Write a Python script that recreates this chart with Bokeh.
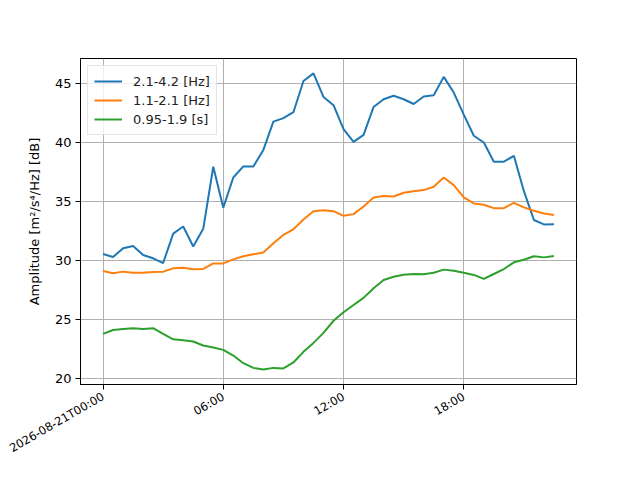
import math
import pandas as pd
from bokeh.plotting import figure
from bokeh.models import (Range1d, FixedTicker, CustomJSTickFormatter, Legend,
                          LegendItem, ColumnDataSource)
from bokeh.embed import file_html
from bokeh.resources import INLINE

start = "2026-08-21T00:00"
times = pd.date_range(start, periods=46, freq="30min")

band_hz_high = [30.56, 30.31, 31.05, 31.24, 30.48, 30.2, 29.8, 32.3, 32.9, 31.2,
                32.7, 37.97, 34.5, 37.06, 38.0, 38.0, 39.4, 41.8, 42.1, 42.6,
                45.25, 45.9, 43.9, 43.2, 41.16, 40.08, 40.68, 43.05, 43.7, 44.0,
                43.7, 43.3, 43.93, 44.04, 45.6, 44.27, 42.4, 40.6, 40.03, 38.4,
                38.4, 38.9, 35.9, 33.45, 33.08, 33.1]
band_hz_low = [29.12, 28.93, 29.07, 28.98, 28.98, 29.04, 29.07, 29.35, 29.4, 29.27,
               29.3, 29.77, 29.77, 30.11, 30.37, 30.54, 30.7, 31.47, 32.18, 32.66,
               33.5, 34.2, 34.29, 34.2, 33.81, 33.95, 34.6, 35.37, 35.48, 35.45,
               35.76, 35.9, 35.99, 36.27, 37.06, 36.41, 35.37, 34.86, 34.75, 34.46,
               34.46, 34.9, 34.52, 34.24, 34.0, 33.87]
band_period = [23.79, 24.12, 24.2, 24.27, 24.2, 24.27, 23.79, 23.33, 23.25, 23.14,
               22.8, 22.63, 22.43, 21.95, 21.3, 20.9, 20.76, 20.9, 20.85, 21.36,
               22.26, 23.02, 23.87, 24.9, 25.62, 26.24, 26.84, 27.66, 28.36, 28.64,
               28.81, 28.87, 28.84, 28.98, 29.24, 29.15, 28.98, 28.79, 28.45, 28.87,
               29.29, 29.86, 30.08, 30.37, 30.28, 30.4]

series_labels = ["2.1-4.2 [Hz]", "1.1-2.1 [Hz]", "0.95-1.9 [s]"]
series_colors = ["#1f77b4", "#ff7f0e", "#2ca02c"]

tick_times = pd.date_range(start, periods=4, freq="6h")
tick_labels = ["2026-08-21T00:00", "06:00", "12:00", "18:00"]
y_ticks = [20, 25, 30, 35, 40, 45]

FONT = "DejaVu Sans"

t_ms = [t.value / 1e6 for t in times]
tick_ms = [t.value / 1e6 for t in tick_times]
hour = 3600e3
x0 = t_ms[0] - 1.125 * hour
x1 = t_ms[-1] + 1.125 * hour

p = figure(width=632, height=472, x_axis_type="datetime",
           output_backend="svg", toolbar_location=None,
           x_range=Range1d(x0, x1), y_range=Range1d(19.49, 47.16),
           frame_width=496, frame_height=326,
           min_border_left=80, min_border_right=56,
           min_border_top=58, min_border_bottom=88)

p.background_fill_color = "white"
p.border_fill_color = "white"
p.outline_line_color = "black"
p.outline_line_width = 1

src = ColumnDataSource(dict(t=t_ms, a=band_hz_high, b=band_hz_low, c=band_period))
renderers = []
for col, color in zip(["a", "b", "c"], series_colors):
    r = p.line("t", col, source=src, line_color=color, line_width=2)
    renderers.append(r)

p.xaxis.ticker = FixedTicker(ticks=tick_ms)
p.xaxis.formatter = CustomJSTickFormatter(args=dict(tvals=tick_ms, tlabels=tick_labels), code="""
for (let i = 0; i < tvals.length; i++) {
  if (Math.abs(tvals[i] - tick) < 1000) return tlabels[i];
}
return "";
""")
p.xaxis.major_label_orientation = math.pi / 6
p.xaxis.major_label_text_font_size = "11.5px"
p.yaxis.ticker = FixedTicker(ticks=y_ticks)
p.yaxis.major_label_text_font_size = "13px"

for ax in [p.xaxis[0], p.yaxis[0]]:
    ax.major_label_text_font = FONT
    ax.major_label_text_color = "black"
    ax.axis_line_color = "black"
    ax.major_tick_line_color = "black"
    ax.major_tick_out = 5
    ax.major_tick_in = 0
    ax.minor_tick_out = 0
    ax.minor_tick_in = 0
    ax.major_label_standoff = 4
p.xaxis.major_label_standoff = 6

p.yaxis.axis_label = "Amplitude [m²/s⁴/Hz] [dB]"
p.yaxis.axis_label_text_font = FONT
p.yaxis.axis_label_text_font_style = "normal"
p.yaxis.axis_label_text_font_size = "13px"
p.yaxis.axis_label_text_color = "black"
p.yaxis.axis_label_standoff = 10

for g in [p.xgrid[0], p.ygrid[0]]:
    g.grid_line_color = "#b0b0b0"
    g.grid_line_width = 1

legend = Legend(items=[LegendItem(label=l, renderers=[r]) for l, r in zip(series_labels, renderers)],
                location="top_left", margin=7, padding=6, spacing=1,
                glyph_width=28, glyph_height=18, label_standoff=11,
                label_text_font=FONT, label_text_font_size="13px",
                label_text_color="#222222",
                border_line_color="#cccccc", background_fill_alpha=0.8)
p.add_layout(legend)

open("out.html", "w").write(file_html(p, INLINE))
